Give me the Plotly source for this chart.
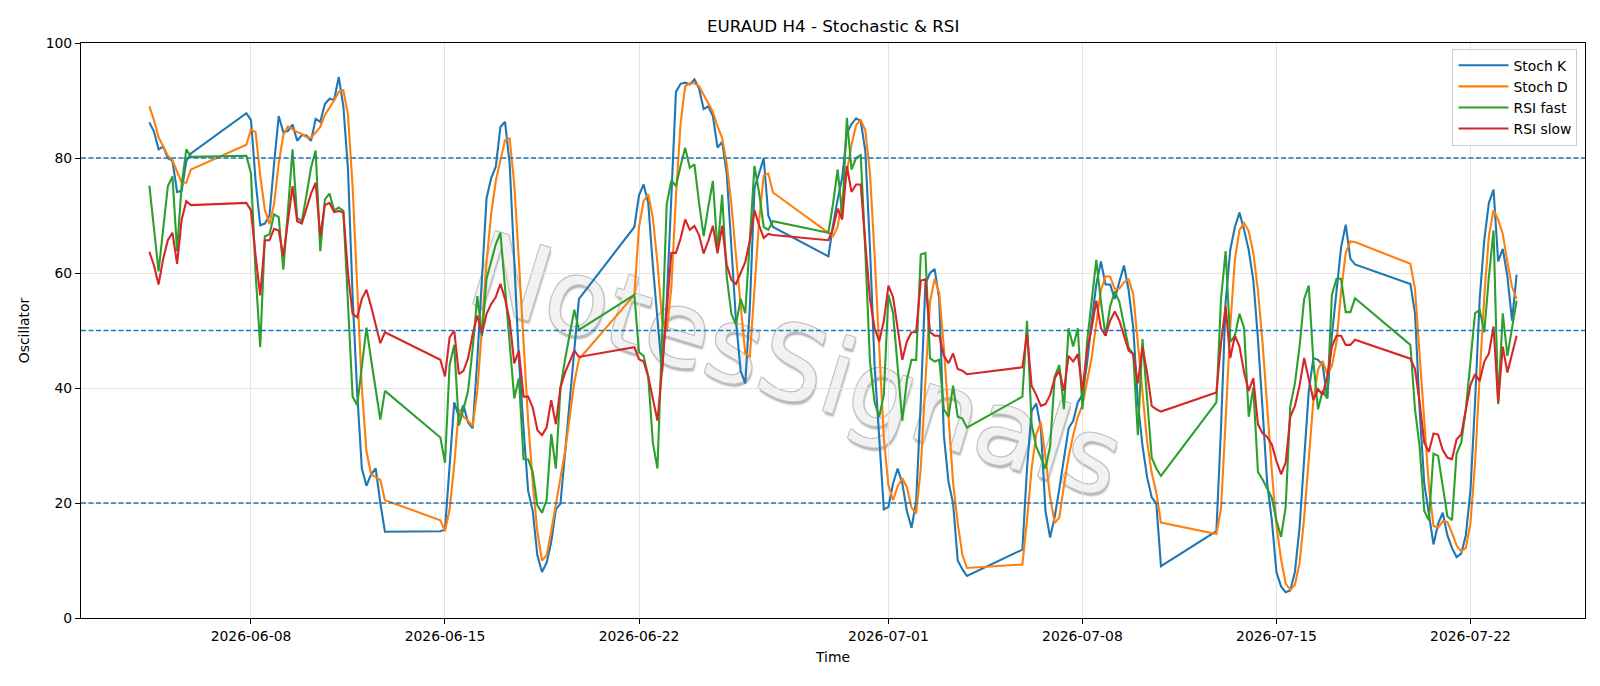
import pandas as pd
import plotly.graph_objects as go

# ---------------- bar timestamps (H4, weekends skipped) ----------------
week_spans = [
    ("2026-06-04 08:00", "2026-06-05 20:00"),
    ("2026-06-07 20:00", "2026-06-12 20:00"),
    ("2026-06-14 20:00", "2026-06-19 20:00"),
    ("2026-06-21 20:00", "2026-06-26 20:00"),
    ("2026-06-28 20:00", "2026-07-03 20:00"),
    ("2026-07-05 20:00", "2026-07-10 20:00"),
    ("2026-07-12 20:00", "2026-07-17 20:00"),
    ("2026-07-19 20:00", "2026-07-23 16:00"),
]
times = []
for a, b in week_spans:
    times.extend(pd.date_range(a, b, freq="4h"))

# ---------------- series values ----------------
stoch_k = [
    86.2, 84.6, 81.5, 82.0, 80.0, 79.5, 74.1, 74.3, 79.5, 80.8,
    87.8, 86.6, 76.0, 68.3, 68.6, 70.0, 79.0, 87.3, 84.5, 84.7, 85.8, 83.0, 84.0, 83.9, 83.0, 86.8,
    86.3, 89.4, 90.3, 90.1, 94.1, 89.0, 78.0, 56.0, 39.0, 26.0, 23.0, 25.0, 26.0, 20.0, 15.0,
    15.1, 15.4, 27.0, 37.5, 35.0, 37.0, 34.0, 33.0, 45.0, 58.0, 73.0, 76.5, 78.5, 85.4, 86.3, 79.0,
    62.0, 45.0, 33.0, 22.1, 18.6, 10.9, 8.0, 9.6, 13.2, 18.9, 19.9, 28.6, 38.0, 47.0, 55.5,
    68.0, 73.5, 75.4, 72.2, 61.3, 51.7, 42.7, 54.9, 73.5, 91.5, 92.9, 93.1, 92.8, 93.7, 92.1, 88.5,
    89.0, 87.3, 81.8, 82.8, 77.3, 64.5, 51.7, 43.0, 40.8, 54.2, 74.8, 77.3, 80.0, 70.0, 68.0,
    62.9, 68.3, 72.8, 76.6, 84.3, 85.9, 86.9, 86.4, 81.2, 64.5, 44.0, 31.0, 18.9, 19.3, 23.4, 26.0,
    23.4, 18.6, 15.7, 20.2, 37.5, 58.1, 60.0, 60.7, 55.5, 31.8, 23.7, 19.9, 10.0, 8.5, 7.3,
    11.9, 26.0, 36.0, 37.3, 33.0, 18.6, 14.0, 17.6, 22.5, 28.0, 33.0, 34.3, 37.5, 38.8, 44.3, 51.7,
    58.0, 62.0, 58.0, 58.0, 55.5, 58.5, 61.3, 57.0, 50.5, 37.5, 30.0, 24.5, 21.0, 19.9, 9.0,
    15.1, 33.0, 55.0, 64.0, 68.0, 70.5, 67.5, 64.0, 58.7, 48.5, 36.3, 23.4, 17.0, 8.0, 5.5, 4.5,
    4.8, 8.0, 15.7, 28.6, 39.5, 45.2, 44.9, 44.0, 38.2, 49.1, 56.8, 64.5, 68.4, 62.5, 61.5,
    58.1, 53.0, 36.3, 23.4, 17.7, 12.8, 16.4, 18.3, 14.4, 12.2, 10.6, 11.2, 14.4, 22.1, 37.5, 55.5,
    65.8, 72.2, 74.5, 62.0, 64.2, 59.4, 51.7, 59.7,
]
stoch_d = [
    89.0, 86.6, 83.6, 82.1, 80.4, 79.6, 77.6, 75.7, 75.7, 78.0,
    82.3, 85.0, 84.5, 77.0, 71.0, 68.5, 72.0, 79.0, 84.0, 85.5, 85.0, 84.5, 84.2, 83.6, 83.5, 84.5,
    85.4, 87.5, 88.7, 90.0, 91.5, 91.8, 87.5, 75.0, 57.5, 40.0, 29.0, 25.0, 24.5, 24.0, 20.5,
    17.0, 15.1, 18.9, 26.6, 36.3, 35.0, 34.3, 33.4, 39.5, 50.4, 62.0, 70.3, 76.0, 79.6, 83.1, 83.4,
    75.4, 62.0, 47.0, 34.3, 23.4, 15.0, 10.0, 10.9, 15.1, 19.6, 24.7, 29.0, 35.0, 41.0, 45.0,
    56.2, 68.0, 72.5, 73.7, 69.6, 61.7, 51.9, 49.8, 57.4, 73.3, 86.0, 92.5, 93.0, 93.0, 92.5, 91.0,
    89.5, 88.0, 85.5, 83.5, 79.0, 72.0, 63.0, 54.0, 46.0, 45.5, 57.0, 69.0, 77.0, 77.3, 74.0,
    67.0, 66.4, 68.0, 72.6, 77.9, 82.3, 85.7, 86.6, 84.8, 77.4, 63.2, 46.5, 31.3, 23.1, 20.5, 22.9,
    24.3, 22.7, 19.2, 18.2, 26.0, 41.0, 55.0, 59.0, 56.5, 47.0, 34.5, 23.5, 16.5, 11.0, 8.7,
    9.3, 17.0, 26.0, 32.0, 34.0, 28.0, 21.0, 16.5, 17.5, 23.0, 28.0, 31.8, 35.0, 37.0, 41.0, 45.3,
    51.2, 57.0, 59.4, 59.4, 57.2, 57.3, 58.4, 58.9, 56.3, 48.3, 39.3, 30.7, 25.2, 21.8, 16.6,
    14.6, 19.0, 34.3, 50.7, 62.3, 67.5, 68.7, 67.3, 63.4, 57.0, 47.8, 36.0, 25.6, 16.1, 10.2, 6.0,
    4.9, 5.8, 9.5, 17.4, 27.9, 37.8, 43.2, 44.7, 42.4, 43.8, 48.0, 56.8, 63.5, 65.5, 65.4,
    61.6, 57.2, 46.0, 33.0, 23.0, 16.0, 15.7, 16.8, 16.7, 14.8, 12.6, 11.6, 12.2, 16.5, 27.0, 42.0,
    56.0, 66.5, 70.9, 69.3, 66.8, 61.9, 57.6, 55.5,
]
rsi_fast = [
    75.2, 68.0, 60.3, 67.7, 75.1, 76.8, 63.8, 75.4, 81.5, 80.2,
    80.4, 77.3, 60.0, 47.1, 66.4, 66.7, 70.2, 69.7, 60.6, 70.9, 81.5, 69.6, 69.0, 73.5, 78.3, 81.3,
    63.8, 72.8, 73.8, 70.9, 71.4, 70.8, 55.0, 38.5, 37.0, 44.0, 50.5, 45.0, 39.5, 34.5, 39.5,
    31.4, 27.0, 44.0, 47.5, 33.5, 36.3, 39.5, 47.0, 56.0, 49.0, 59.0, 62.0, 65.0, 67.0, 57.0, 48.0,
    38.2, 41.7, 27.6, 27.6, 25.4, 19.6, 18.3, 20.5, 32.0, 26.0, 40.0, 45.0, 49.0, 53.6, 50.1,
    56.2, 46.2, 45.6, 42.0, 30.5, 26.0, 48.0, 72.0, 76.1, 75.1, 78.6, 81.8, 78.3, 78.9, 72.2, 66.4,
    71.5, 76.0, 63.8, 73.6, 59.3, 52.9, 51.0, 55.5, 53.0, 66.0, 78.6, 74.0, 68.0, 67.5, 69.0,
    67.0, 72.0, 78.0, 70.0, 87.0, 78.0, 80.0, 80.5, 63.8, 44.6, 37.5, 35.0, 38.8, 56.2, 53.0, 44.0,
    34.3, 41.4, 44.9, 44.9, 63.2, 63.5, 45.2, 44.6, 44.9, 36.3, 35.0, 40.4, 35.0, 34.7, 33.1,
    38.5, 51.7, 33.7, 29.8, 27.9, 26.0, 29.8, 42.0, 44.0, 36.3, 50.4, 47.2, 50.4, 36.3, 48.0, 54.9,
    62.3, 55.0, 49.1, 54.2, 56.8, 55.0, 51.0, 47.0, 45.9, 31.8, 48.5, 38.0, 27.9, 26.0, 24.7,
    37.5, 55.5, 63.8, 48.0, 49.1, 52.9, 50.4, 35.0, 40.1, 25.4, 24.1, 22.5, 20.9, 17.0, 14.1, 19.3,
    36.9, 40.8, 47.2, 55.5, 57.8, 44.6, 36.3, 39.5, 38.2, 56.2, 59.0, 59.0, 53.2, 53.2, 55.6,
    47.5, 36.3, 29.8, 18.6, 17.0, 28.6, 28.2, 22.8, 17.7, 17.0, 28.6, 30.5, 36.3, 44.6, 53.0, 53.6,
    49.7, 59.4, 67.4, 37.2, 53.0, 45.6, 50.1, 55.2,
]
rsi_slow = [
    63.7, 61.3, 58.0, 62.5, 65.7, 67.0, 61.6, 69.3, 72.5, 71.8,
    72.2, 70.9, 63.0, 56.1, 65.7, 65.7, 67.7, 67.4, 62.9, 69.5, 75.1, 69.0, 68.6, 71.2, 73.8, 75.7,
    66.4, 71.8, 72.2, 70.6, 70.8, 70.5, 60.0, 52.9, 52.3, 55.5, 57.1, 54.2, 51.0, 47.8, 49.7,
    44.9, 42.0, 48.8, 50.0, 42.4, 43.0, 45.2, 49.4, 52.6, 49.4, 52.9, 54.6, 55.8, 58.1, 55.5, 51.7,
    44.3, 46.5, 38.5, 38.5, 36.6, 32.7, 31.8, 33.1, 37.9, 33.7, 40.1, 42.7, 44.6, 46.5, 45.4,
    47.1, 45.0, 44.6, 42.0, 37.9, 34.3, 43.3, 54.2, 63.5, 63.5, 66.0, 69.3, 67.5, 68.2, 66.6, 63.4,
    65.6, 68.2, 63.4, 68.2, 61.4, 58.8, 58.1, 60.0, 61.9, 65.7, 70.9, 68.3, 66.1, 66.8, 66.6,
    65.7, 67.7, 71.2, 69.3, 78.6, 74.1, 75.4, 75.4, 65.1, 55.5, 50.4, 48.1, 51.6, 57.8, 55.8, 50.7,
    44.9, 48.1, 49.7, 49.7, 58.7, 58.9, 49.7, 49.1, 49.1, 45.6, 44.3, 46.0, 43.3, 43.0, 42.4,
    43.6, 49.4, 40.4, 38.8, 36.9, 37.2, 38.8, 41.7, 43.0, 39.5, 45.6, 44.6, 45.9, 39.5, 46.5, 50.4,
    55.2, 50.4, 49.1, 51.7, 53.3, 51.7, 49.1, 46.5, 45.9, 40.8, 47.2, 42.7, 36.9, 36.3, 35.9,
    39.2, 47.8, 54.2, 45.2, 49.1, 47.2, 42.7, 39.5, 41.7, 33.7, 32.1, 31.5, 30.2, 27.3, 25.0, 27.0,
    35.0, 36.9, 40.4, 45.2, 41.4, 37.9, 39.8, 38.8, 42.0, 47.2, 49.1, 49.1, 47.5, 47.5, 48.4,
    45.1, 43.3, 37.5, 30.5, 28.9, 32.1, 31.9, 29.2, 27.9, 27.6, 31.1, 31.9, 36.3, 40.5, 42.4, 41.2,
    44.6, 46.0, 50.7, 37.5, 47.2, 42.7, 45.9, 49.1,
]

series_names = ["Stoch K", "Stoch D", "RSI fast", "RSI slow"]
series_colors = ["#1f77b4", "#ff7f0e", "#2ca02c", "#d62728"]
level_lines = [80, 50, 20]
x_tick_labels = ["2026-06-08", "2026-06-15", "2026-06-22", "2026-07-01",
                 "2026-07-08", "2026-07-15", "2026-07-22"]
y_ticks = [0, 20, 40, 60, 80, 100]
watermark_text = "NotesSignals"

for s in (stoch_k, stoch_d, rsi_fast, rsi_slow):
    assert len(s) == len(times), (len(s), len(times))

FONT = "DejaVu Sans"
fig = go.Figure()
for name, vals, col in zip(series_names, [stoch_k, stoch_d, rsi_fast, rsi_slow], series_colors):
    fig.add_trace(go.Scatter(x=times, y=vals, mode="lines", name=name,
                             line=dict(color=col, width=2.1)))

for lv in level_lines:
    fig.add_shape(type="line", xref="paper", yref="y", x0=0, x1=1, y0=lv, y1=lv,
                  line=dict(color="#1f77b4", width=1.3, dash="5px,2.5px"), layer="above")

# watermark (faint embossed text, drawn beneath the data lines)
wm_shadow = ("1px 1px 0 #c2c2c2, -1px -1px 0 #c2c2c2, 1px -1px 0 #c2c2c2, "
             "-1px 1px 0 #c2c2c2, 2px 3px 2px #b0b0b0")
wm_x, wm_y = 0.477, 0.452
try:
    fig.add_shape(type="rect", xref="paper", yref="paper",
                  x0=wm_x - 0.005, x1=wm_x + 0.005, y0=wm_y - 0.005, y1=wm_y + 0.005,
                  line=dict(width=0), fillcolor="rgba(0,0,0,0)", layer="below",
                  label=dict(text=watermark_text, textangle=17, textposition="middle center",
                             font=dict(family=FONT, size=104, color="#f2f2f2", shadow=wm_shadow)))
except Exception:
    fig.add_annotation(text=watermark_text, xref="paper", yref="paper", x=wm_x, y=wm_y,
                       showarrow=False, textangle=17,
                       font=dict(family=FONT, size=104, color="rgba(170,170,170,0.35)"))

fig.add_annotation(text="EURAUD H4 - Stochastic & RSI", xref="paper", yref="paper",
                   x=0.5, y=1, yanchor="bottom", yshift=5, showarrow=False,
                   font=dict(family=FONT, size=16.7, color="black"))

x0 = pd.Timestamp("2026-06-04 08:00")
x1 = pd.Timestamp("2026-07-23 16:00")
pad = (x1 - x0) * 0.05
fig.update_layout(
    width=1600, height=686,
    margin=dict(l=81, r=15, t=43, b=68),
    plot_bgcolor="white", paper_bgcolor="white",
    font=dict(family=FONT, size=13.9, color="black"),
    showlegend=True,
    legend=dict(x=0.995, y=0.99, xanchor="right", yanchor="top", itemwidth=50,
                bgcolor="rgba(255,255,255,0.85)", bordercolor="#cccccc", borderwidth=1,
                font=dict(family=FONT, size=13.9)),
    xaxis=dict(type="date", range=[x0 - pad, x1 + pad],
               tickvals=x_tick_labels, ticktext=x_tick_labels,
               showgrid=True, gridcolor="#e4e4e4", gridwidth=1,
               showline=True, linecolor="black", linewidth=1.1, mirror=True,
               ticks="outside", ticklen=5, tickcolor="black", tickwidth=1.1,
               title=dict(text="Time", font=dict(size=13.9), standoff=9),
               zeroline=False),
    yaxis=dict(range=[0, 100], tickvals=y_ticks,
               showgrid=True, gridcolor="#e4e4e4", gridwidth=1,
               showline=True, linecolor="black", linewidth=1.1, mirror=True,
               ticks="outside", ticklen=5, tickcolor="black", tickwidth=1.1,
               title=dict(text="Oscillator", font=dict(size=13.9), standoff=12),
               zeroline=False),
)
fig.write_html("out.html")
